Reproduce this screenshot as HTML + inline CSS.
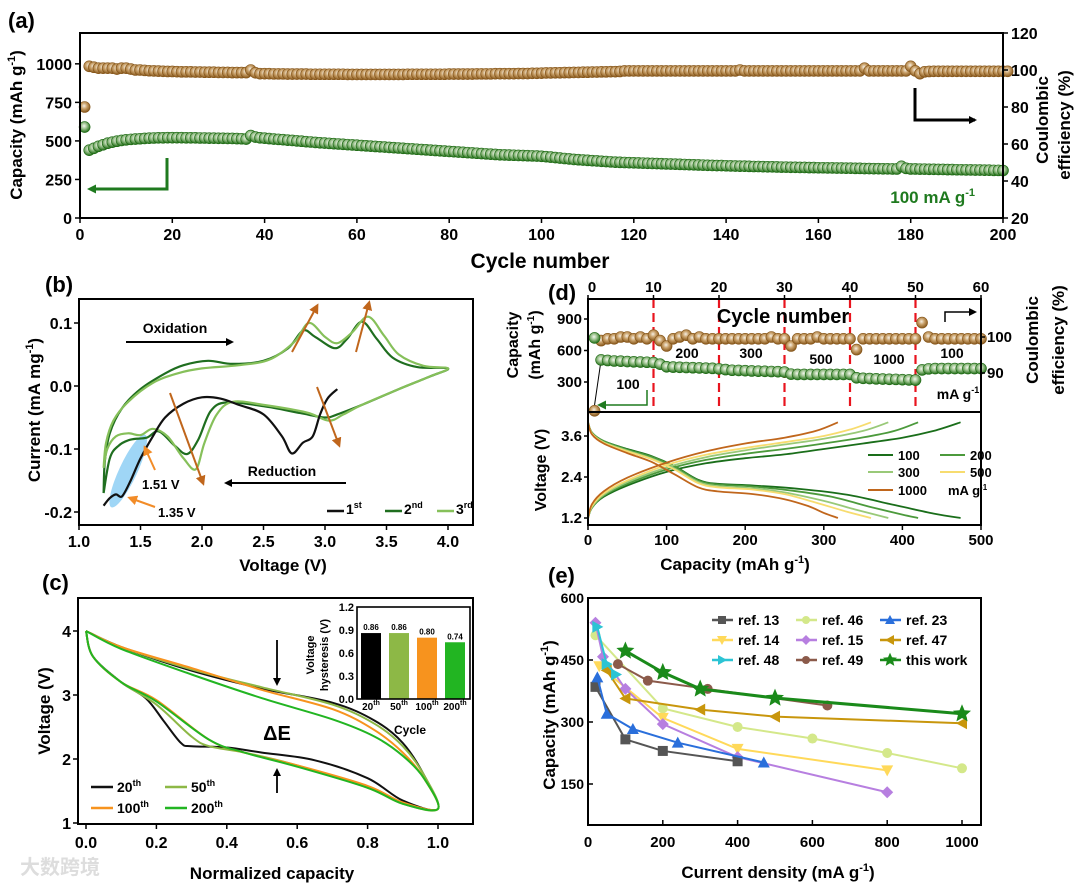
<!DOCTYPE html>
<html><head><meta charset="utf-8"><style>
html,body{margin:0;padding:0;background:#fff;}
svg{display:block;font-family:"Liberation Sans",Arial,sans-serif;font-weight:bold;}
</style></head><body>
<svg id="fig" width="1080" height="885" viewBox="0 0 1080 885" xmlns="http://www.w3.org/2000/svg">
<defs>
<radialGradient id="gGreen" cx="0.45" cy="0.4" r="0.6"><stop offset="0" stop-color="#f4f7ee"/><stop offset="0.45" stop-color="#9bc28d"/><stop offset="1" stop-color="#1e6b14"/></radialGradient>
<radialGradient id="gBrown" cx="0.45" cy="0.4" r="0.6"><stop offset="0" stop-color="#f5efe3"/><stop offset="0.45" stop-color="#c9a16a"/><stop offset="1" stop-color="#86561a"/></radialGradient>
<marker id="ahK" markerWidth="8" markerHeight="8" refX="6" refY="4" orient="auto" markerUnits="userSpaceOnUse"><path d="M0,0 L8,4 L0,8 z" fill="#000"/></marker>
<marker id="ahG" markerWidth="9" markerHeight="9" refX="6" refY="4.5" orient="auto" markerUnits="userSpaceOnUse"><path d="M0,0 L9,4.5 L0,9 z" fill="#1f7a1f"/></marker>
<marker id="ahO" markerWidth="10" markerHeight="10" refX="7" refY="5" orient="auto" markerUnits="userSpaceOnUse"><path d="M0,0 L10,5 L0,10 z" fill="#c0661c"/></marker>
<marker id="ahF" markerWidth="10" markerHeight="10" refX="7" refY="5" orient="auto" markerUnits="userSpaceOnUse"><path d="M0,0 L10,5 L0,10 z" fill="#f28c28"/></marker>
</defs>
</svg>
<script>
// ---------- DATA ----------
const capA=[590,440,452,465,475,485,492,498,503,507,510,512,514,516,518,519,520,520,521,521,521,521,520,520,520,519,519,518,518,517,517,516,516,515,514,512,535,525,520,518,515,512,510,508,505,503,500,498,495,493,490,488,486,484,482,480,478,476,474,472,470,468,466,464,462,460,458,456,454,452,450,448,446,444,442,440,438,436,434,432,430,428,426,424,422,420,418,416,414,412,410,409,408,407,406,405,404,403,402,400,398,395,392,389,386,383,380,378,376,374,372,370,368,366,364,362,361,360,359,358,357,356,355,354,353,352,351,350,349,348,347,346,345,344,343,342,341,340,340,339,338,337,336,336,335,334,334,333,332,332,331,330,330,329,329,328,328,327,327,326,326,325,325,324,324,323,323,322,322,321,321,320,320,319,319,318,318,335,322,318,318,317,317,316,316,315,315,314,314,313,313,312,312,311,311,310,310,309,309,308];
const ceA=[80,102,101.5,101,101,101,101,100.5,101,101,100.5,100,100,99.8,99.6,99.5,99.4,99.3,99.2,99.2,99.1,99,99,99,98.9,98.9,98.8,98.8,98.8,98.7,98.7,98.7,98.6,98.6,98.6,98.6,100,98.5,98,98,98,97.9,97.9,97.9,97.8,97.8,97.8,97.8,97.8,97.7,97.7,97.7,97.7,97.7,97.7,97.7,97.7,97.6,97.6,97.6,97.6,97.6,97.6,97.6,97.6,97.6,97.6,97.6,97.6,97.6,97.7,97.7,97.7,97.7,97.7,97.7,97.7,97.7,97.7,97.8,97.8,97.8,97.8,97.8,97.8,97.9,97.9,97.9,97.9,98,98,98,98,98,98.1,98.1,98.1,98.2,98.2,98.3,98.4,98.4,98.5,98.5,98.6,98.6,98.7,98.7,98.8,98.8,98.9,98.9,99,99,99.1,99.1,99.2,99.5,99.5,99.5,99.5,99.5,99.5,99.5,99.5,99.5,99.5,99.5,99.5,99.5,99.5,99.5,99.5,99.5,99.5,99.5,99.5,99.5,99.5,99.5,99.5,99.5,100,99.5,99.5,99.5,99.5,99.5,99.5,99.5,99.5,99.5,99.5,99.5,99.5,99.5,99.5,99.5,99.5,99.5,99.5,99.5,99.5,99.5,99.5,99.5,99.5,99.5,99.5,101,99.5,99.5,99.5,99.5,99.5,99.5,99.5,99.5,99.5,102,99.5,98,99,99.2,99.3,99.3,99.3,99.3,99.3,99.3,99.3,99.3,99.3,99.3,99.3,99.3,99.3,99.3,99.3,99.3,99.3];
const ticksA_x=[0,20,40,60,80,100,120,140,160,180,200];
const ticksA_yl=[0,250,500,750,1000];
const ticksA_yr=[20,40,60,80,100,120];
const cv1=[[3.1,-0.005],[3.02,-0.02],[2.96,-0.045],[2.9,-0.08],[2.82,-0.09],[2.73,-0.107],[2.65,-0.08],[2.5,-0.045],[2.3,-0.03],[2.15,-0.02],[2.0,-0.018],[1.85,-0.028],[1.7,-0.05],[1.6,-0.08],[1.5,-0.115],[1.42,-0.15],[1.35,-0.175],[1.3,-0.172],[1.25,-0.178],[1.2,-0.19]];
const cv2=[[1.2,-0.17],[1.21,-0.12],[1.25,-0.075],[1.35,-0.035],[1.5,-0.005],[1.7,0.02],[1.85,0.033],[2.05,0.04],[2.25,0.035],[2.5,0.04],[2.7,0.06],[2.82,0.088],[2.92,0.078],[3.08,0.06],[3.18,0.075],[3.3,0.102],[3.42,0.075],[3.55,0.045],[3.75,0.03],[4.0,0.028],[3.85,0.015],[3.6,-0.005],[3.3,-0.03],[3.1,-0.045],[3.0,-0.05],[2.8,-0.043],[2.5,-0.032],[2.2,-0.026],[2.07,-0.04],[1.97,-0.085],[1.88,-0.108],[1.78,-0.095],[1.65,-0.072],[1.55,-0.082],[1.42,-0.085],[1.32,-0.095],[1.25,-0.115],[1.2,-0.17]];
const cv3=[[1.2,-0.13],[1.22,-0.09],[1.28,-0.055],[1.4,-0.025],[1.6,0.005],[1.8,0.02],[2.0,0.028],[2.3,0.033],[2.55,0.042],[2.75,0.07],[2.87,0.1],[3.0,0.078],[3.1,0.068],[3.22,0.085],[3.35,0.11],[3.48,0.08],[3.6,0.05],[3.8,0.032],[4.0,0.028],[3.85,0.015],[3.6,-0.005],[3.3,-0.03],[3.15,-0.045],[3.03,-0.055],[2.85,-0.042],[2.5,-0.03],[2.25,-0.025],[2.12,-0.045],[2.02,-0.09],[1.95,-0.132],[1.85,-0.115],[1.72,-0.08],[1.6,-0.068],[1.5,-0.078],[1.4,-0.075],[1.3,-0.08],[1.23,-0.1],[1.2,-0.13]];
const ticksB_x=[1.0,1.5,2.0,2.5,3.0,3.5,4.0];
const ticksB_y=[-0.2,-0.1,0.0,0.1];
const c20=[[0,4.0],[0.1,3.75],[0.3,3.38],[0.5,3.1],[0.7,2.88],[0.82,2.6],[0.9,2.25],[0.96,1.75],[1.0,1.22],[0.9,1.35],[0.8,1.7],[0.65,1.98],[0.5,2.1],[0.4,2.18],[0.3,2.2],[0.27,2.25],[0.22,2.6],[0.17,2.95],[0.1,3.2],[0.02,3.6],[0,4.0]];
const c50=[[0,4.0],[0.1,3.75],[0.3,3.4],[0.5,3.12],[0.7,2.85],[0.82,2.55],[0.9,2.2],[0.96,1.75],[1.0,1.22],[0.9,1.3],[0.8,1.55],[0.6,1.9],[0.45,2.1],[0.35,2.2],[0.3,2.35],[0.2,2.85],[0.1,3.2],[0.02,3.6],[0,4.0]];
const c100=[[0,4.0],[0.1,3.75],[0.3,3.42],[0.5,3.08],[0.7,2.78],[0.82,2.45],[0.9,2.1],[0.96,1.7],[1.0,1.22],[0.9,1.32],[0.8,1.58],[0.6,1.9],[0.45,2.1],[0.35,2.3],[0.2,2.92],[0.1,3.2],[0.02,3.6],[0,4.0]];
const c200=[[0,4.0],[0.1,3.72],[0.3,3.32],[0.5,2.95],[0.7,2.62],[0.82,2.35],[0.9,2.05],[0.96,1.7],[1.0,1.22],[0.9,1.3],[0.8,1.55],[0.6,1.88],[0.45,2.1],[0.35,2.3],[0.2,2.9],[0.1,3.2],[0.02,3.6],[0,4.0]];
const ticksC_x=[0.0,0.2,0.4,0.6,0.8,1.0];
const ticksC_y=[1,2,3,4];
const insetCats=["20","50","100","200"];
const insetVals=[0.86,0.86,0.80,0.74];
const ticksInset=[0.0,0.3,0.6,0.9,1.2];
const capD=[720,510,505,500,498,495,492,490,488,485,470,445,442,440,438,436,434,432,430,425,418,412,410,408,405,403,402,400,398,395,375,372,372,372,372,372,372,372,372,372,340,335,333,330,328,326,325,322,320,318,415,425,428,428,428,428,428,428,428,428];
const ceD=[79.5,99,99.5,99.5,100,100,99.5,100,99.5,100.5,99,97.5,99.5,100,100.5,99.5,100,99.5,99.5,99.5,99.5,99.5,99.5,99.5,99.5,99.5,99.5,100,99.5,99.5,97.5,99.5,99.5,99.5,100,99.5,99.5,99.5,99.5,99.5,96.5,99.5,99.5,99.5,99.5,99.5,99.5,99.5,99.5,99.5,104,100,99.5,99.5,99.5,99.5,99.5,99.5,99.5,99.5];
const ticksD_top=[0,10,20,30,40,50,60];
const ticksD_l=[300,600,900];
const ticksD_r=[90,100];
const ticksD_x=[0,100,200,300,400,500];
const ticksD_v=[1.2,2.4,3.6];
const dis100=[[0,4.0],[5,3.7],[20,3.45],[50,3.22],[80,3.02],[110,2.72],[140,2.32],[165,2.2],[210,2.15],[270,2.05],[330,1.88],[390,1.58],[440,1.33],[474,1.2]];
const chg100=[[0,1.2],[5,1.5],[20,1.82],[50,2.15],[100,2.55],[150,2.8],[200,2.95],[250,3.06],[300,3.22],[350,3.38],[400,3.55],[440,3.75],[474,4.0]];
const dis200=[[0,4.0],[5,3.7],[20,3.45],[50,3.2],[80,3.0],[110,2.7],[140,2.3],[165,2.18],[210,2.12],[260,2.0],[310,1.82],[360,1.52],[400,1.3],[420,1.2]];
const chg200=[[0,1.2],[5,1.5],[20,1.85],[50,2.2],[100,2.62],[150,2.9],[200,3.08],[250,3.22],[300,3.38],[350,3.56],[390,3.75],[420,4.0]];
const dis300=[[0,4.0],[5,3.68],[20,3.42],[50,3.17],[80,2.95],[110,2.65],[140,2.26],[165,2.13],[210,2.07],[250,1.95],[300,1.7],[340,1.45],[382,1.2]];
const chg300=[[0,1.2],[5,1.52],[20,1.88],[50,2.25],[100,2.68],[150,2.98],[200,3.18],[250,3.35],[300,3.52],[350,3.75],[382,4.0]];
const dis500=[[0,4.0],[5,3.67],[20,3.4],[50,3.15],[80,2.93],[110,2.62],[140,2.22],[165,2.1],[210,2.03],[250,1.9],[290,1.65],[330,1.38],[360,1.2]];
const chg500=[[0,1.2],[5,1.55],[20,1.92],[50,2.3],[100,2.75],[150,3.05],[200,3.25],[250,3.42],[300,3.6],[335,3.8],[360,4.0]];
const dis1000=[[0,4.0],[5,3.65],[20,3.38],[50,3.1],[80,2.85],[110,2.48],[140,2.1],[165,1.98],[210,1.9],[250,1.75],[280,1.55],[300,1.35],[318,1.2]];
const chg1000=[[0,1.2],[5,1.6],[20,1.98],[50,2.38],[100,2.82],[150,3.15],[200,3.38],[250,3.55],[290,3.75],[318,4.0]];
const ticksE_x=[0,200,400,600,800,1000];
const ticksE_y=[150,300,450,600];
const ref13_x=[20,100,200,400], ref13_y=[385,258,230,205];
const ref46_x=[20,200,400,600,800,1000], ref46_y=[510,333,288,260,225,188];
const ref23_x=[25,50,120,240,470], ref23_y=[408,320,283,250,202];
const ref14_x=[30,200,400,800], ref14_y=[435,310,235,183];
const ref15_x=[20,40,100,200,400,800], ref15_y=[540,458,380,295,215,130];
const ref47_x=[50,100,300,500,1000], ref47_y=[425,357,330,313,297];
const ref48_x=[25,50,75], ref48_y=[530,440,415];
const ref49_x=[80,160,320,640], ref49_y=[440,400,380,340];
const ours_x=[100,200,300,500,1000], ours_y=[472,420,380,358,320];

// ---------- HELPERS ----------
const NS="http://www.w3.org/2000/svg";
const svg=document.getElementById('fig');
function mk(tag,attrs,parent){const e=document.createElementNS(NS,tag);for(const k in attrs)e.setAttribute(k,attrs[k]);(parent||svg).appendChild(e);return e;}
function lin(d0,d1,r0,r1){return v=>r0+(v-d0)*(r1-r0)/(d1-d0);}
function smooth(pts){let d="M"+pts[0][0].toFixed(1)+","+pts[0][1].toFixed(1);for(let i=0;i<pts.length-1;i++){const p0=pts[i-1]||pts[i],p1=pts[i],p2=pts[i+1],p3=pts[i+2]||p2;const c1=[p1[0]+(p2[0]-p0[0])/6,p1[1]+(p2[1]-p0[1])/6],c2=[p2[0]-(p3[0]-p1[0])/6,p2[1]-(p3[1]-p1[1])/6];d+=" C"+c1[0].toFixed(1)+","+c1[1].toFixed(1)+" "+c2[0].toFixed(1)+","+c2[1].toFixed(1)+" "+p2[0].toFixed(1)+","+p2[1].toFixed(1);}return d;}
function txt(x,y,s,size,anchor,parent,extra){const t=mk('text',Object.assign({x:x,y:y,'font-size':size,'text-anchor':anchor||'middle'},extra||{}),parent);t.innerHTML=s;return t;}
function frame(x0,y0,x1,y1,g){mk('rect',{x:x0,y:y0,width:x1-x0,height:y1-y0,fill:'none',stroke:'#000','stroke-width':2},g);}
function group(name){const g=mk('g',{});return g;}

// ---------- PANEL A ----------
(function(){
const g=group('panel-a');
const X0=80,X1=1003,Y0=33,Y1=218;
const sx=lin(0,200,X0,X1), sy=lin(0,1200,Y1,Y0), sr=lin(20,120,Y1,Y0);
txt(8,28,'(a)',22,'start',g);
capA.forEach((v,i)=>{const c=mk('circle',{cx:sx(i+1),cy:sy(v),r:5.5,fill:'url(#gGreen)',stroke:'#1e6b14','stroke-width':0.6},g);});
ceA.forEach((v,i)=>{const c=mk('circle',{cx:sx(i+1),cy:sr(v),r:5.5,fill:'url(#gBrown)',stroke:'#86561a','stroke-width':0.6},g);});
frame(X0,Y0,X1,Y1,g);
ticksA_x.forEach(v=>{mk('line',{x1:sx(v),x2:sx(v),y1:Y1,y2:Y1+5,stroke:'#000','stroke-width':1.5},g);txt(sx(v),Y1+22,v,16,'middle',g);});
ticksA_yl.forEach(v=>{mk('line',{x1:X0-5,x2:X0,y1:sy(v),y2:sy(v),stroke:'#000','stroke-width':1.5},g);txt(X0-8,sy(v)+6,v,16,'end',g);});
ticksA_yr.forEach(v=>{mk('line',{x1:X1,x2:X1+5,y1:sr(v),y2:sr(v),stroke:'#000','stroke-width':1.5},g);txt(X1+8,sr(v)+6,v,16,'start',g);});
txt(540,268,'Cycle number',21,'middle',g);
txt(0,0,'Capacity (mAh g<tspan font-size="11" dy="-7">-1</tspan><tspan dy="7">)</tspan>',17,'middle',g,{transform:'translate(22,125) rotate(-90)'});
txt(0,0,'Coulombic',17,'middle',g,{transform:'translate(1048,120) rotate(-90)'});
txt(0,0,'efficiency (%)',17,'middle',g,{transform:'translate(1070,125) rotate(-90)'});
mk('polyline',{points:'167,158 167,189 90,189',fill:'none',stroke:'#1f7a1f','stroke-width':3,'marker-end':'url(#ahG)'},g);
mk('polyline',{points:'915,88 915,120 975,120',fill:'none',stroke:'#000','stroke-width':3,'marker-end':'url(#ahK)'},g);
txt(975,203,'100 mA g<tspan font-size="11" dy="-7">-1</tspan>',17,'end',g,{fill:'#1f7a1f'});
})();

// ---------- PANEL B ----------
(function(){
const g=group('panel-b');
const X0=79,X1=473,Y0=299,Y1=525;
const sx=lin(1.0,4.0,79,448), sy=lin(0,0.1,386,323);
txt(45,292,'(b)',22,'start',g);
mk('ellipse',{cx:sx(1.4),cy:sy(-0.135),rx:9,ry:40,fill:'#8ecff5',opacity:0.85,transform:`rotate(25 ${sx(1.4)} ${sy(-0.135)})`},g);
[[cv2,'#1f6e1f'],[cv3,'#86c05a'],[cv1,'#111']].forEach(([d,c])=>{const p=mk('path',{d:smooth(d.map(q=>[sx(q[0]),sy(q[1])])),fill:'none',stroke:c,'stroke-width':2.2},g);});
frame(X0,Y0,X1,Y1,g);
ticksB_x.forEach(v=>{mk('line',{x1:sx(v),x2:sx(v),y1:Y1,y2:Y1+5,stroke:'#000','stroke-width':1.5},g);txt(sx(v),Y1+22,v.toFixed(1),16,'middle',g);});
ticksB_y.forEach(v=>{mk('line',{x1:X0-5,x2:X0,y1:sy(v),y2:sy(v),stroke:'#000','stroke-width':1.5},g);txt(X0-7,sy(v)+6,v.toFixed(1),16,'end',g);});
txt(283,571,'Voltage (V)',17,'middle',g);
txt(0,0,'Current (mA mg<tspan font-size="11" dy="-7">-1</tspan><tspan dy="7">)</tspan>',17,'middle',g,{transform:'translate(40,410) rotate(-90)'});
txt(175,333,'Oxidation',14,'middle',g);
mk('line',{x1:126,y1:342,x2:232,y2:342,stroke:'#000','stroke-width':2,'marker-end':'url(#ahK)'},g);
txt(282,476,'Reduction',14,'middle',g);
mk('line',{x1:346,y1:483,x2:226,y2:483,stroke:'#000','stroke-width':2,'marker-end':'url(#ahK)'},g);
[[292,352,317,306],[356,352,369,303],[170,393,203,483],[317,387,339,445]].forEach(a=>mk('line',{x1:a[0],y1:a[1],x2:a[2],y2:a[3],stroke:'#c0661c','stroke-width':2,'marker-end':'url(#ahO)'},g));
mk('line',{x1:155,y1:470,x2:145,y2:448,stroke:'#f28c28','stroke-width':2,'marker-end':'url(#ahF)'},g);
mk('line',{x1:155,y1:507,x2:130,y2:498,stroke:'#f28c28','stroke-width':2,'marker-end':'url(#ahF)'},g);
txt(142,489,'1.51 V',13,'start',g);txt(158,517,'1.35 V',13,'start',g);
[[327,'#111','1<tspan font-size="9" dy="-6">st</tspan>'],[385,'#1f6e1f','2<tspan font-size="9" dy="-6">nd</tspan>'],[437,'#86c05a','3<tspan font-size="9" dy="-6">rd</tspan>']].forEach(([x,c,s])=>{mk('line',{x1:x,x2:x+17,y1:511,y2:511,stroke:c,'stroke-width':2.5},g);txt(x+19,514,s,14,'start',g);});
})();

// ---------- PANEL C ----------
(function(){
const g=group('panel-c');
const X0=78,X1=473,Y0=598,Y1=824;
const sx=lin(0,1,86,438), sy=lin(1,4,823,631);
txt(42,590,'(c)',22,'start',g);
[[c20,'#111'],[c50,'#8db846'],[c100,'#f7931e'],[c200,'#22b522']].forEach(([d,c])=>{const p=mk('path',{d:smooth(d.map(q=>[sx(q[0]),sy(q[1])])),fill:'none',stroke:c,'stroke-width':2},g);});
frame(X0,Y0,X1,Y1,g);
ticksC_x.forEach(v=>{mk('line',{x1:sx(v),x2:sx(v),y1:Y1,y2:Y1+5,stroke:'#000','stroke-width':1.5},g);txt(sx(v),Y1+24,v.toFixed(1),16,'middle',g);});
ticksC_y.forEach(v=>{mk('line',{x1:X0-5,x2:X0,y1:sy(v),y2:sy(v),stroke:'#000','stroke-width':1.5},g);txt(X0-7,sy(v)+6,v,16,'end',g);});
txt(272,879,'Normalized capacity',17,'middle',g);
txt(0,0,'Voltage (V)',17,'middle',g,{transform:'translate(50,711) rotate(-90)'});
mk('line',{x1:277,y1:640,x2:277,y2:684,stroke:'#000','stroke-width':1.8,'marker-end':'url(#ahK)'},g);
mk('line',{x1:277,y1:793,x2:277,y2:770,stroke:'#000','stroke-width':1.8,'marker-end':'url(#ahK)'},g);
txt(277,740,'ΔE',20,'middle',g);
[[91,787,'#111','20'],[165,787,'#8db846','50'],[91,808,'#f7931e','100'],[165,808,'#22b522','200']].forEach(([x,y,c,s])=>{mk('line',{x1:x,x2:x+22,y1:y,y2:y,stroke:c,'stroke-width':2.5},g);txt(x+26,y+5,s+'<tspan font-size="9" dy="-6">th</tspan>',14,'start',g);});
const IX0=357,IX1=470,IY0=607,IY1=699;
const iy=lin(0,1.2,IY1,IY0);
const cols=['#000','#8db846','#f7931e','#22b522'];
insetVals.forEach((v,i)=>{const bx=IX0+4+i*28;const r=mk('rect',{x:bx,y:iy(v),width:20,height:IY1-iy(v),fill:cols[i]},g);txt(bx+10,iy(v)-3,v.toFixed(2),8,'middle',g);txt(bx+10,IY1+11,insetCats[i]+'<tspan font-size="7" dy="-5">th</tspan>',10,'middle',g);});
mk('rect',{x:IX0,y:IY0,width:IX1-IX0,height:IY1-IY0,fill:'none',stroke:'#000','stroke-width':1.6},g);
ticksInset.forEach(v=>{txt(IX0-3,iy(v)+4,v.toFixed(1),11,'end',g);});
txt(410,734,'Cycle',12,'middle',g);
txt(0,0,'Voltage',11,'middle',g,{transform:'translate(314,655) rotate(-90)'});
txt(0,0,'hysteresis (V)',11,'middle',g,{transform:'translate(328,655) rotate(-90)'});
})();

// ---------- PANEL D ----------
(function(){
const g=group('panel-d');
const X0=588,X1=981,Y0=299,YM=412,Y1=525;
const sc=lin(0,60,X0,X1), sl=lin(300,900,382,319), sr=lin(90,100,373,337);
const sxc=lin(0,500,X0,X1), sv=lin(1.2,3.6,518,436);
txt(548,300,'(d)',22,'start',g);
ticksD_top.forEach(v=>{mk('line',{x1:sc(v),x2:sc(v),y1:Y0,y2:Y0-4,stroke:'#000','stroke-width':1.5},g);txt(sc(v)+(v===0?4:0),292,v,15,'middle',g);});
[10,20,30,40,50].forEach(v=>mk('line',{x1:sc(v),x2:sc(v),y1:Y0,y2:YM,stroke:'#e8141e','stroke-width':2.2,'stroke-dasharray':'9,5'},g));
mk('line',{x1:sc(2),y1:sl(capD[1]),x2:sc(1),y2:405,stroke:'#000','stroke-width':1},g);
ceD.forEach((v,i)=>{const cy=Math.min(sr(v),YM);const c=mk('circle',{cx:sc(i+1),cy:cy,r:5.5,fill:'url(#gBrown)',stroke:'#86561a','stroke-width':0.6},g);});
capD.forEach((v,i)=>{const c=mk('circle',{cx:sc(i+1),cy:sl(v),r:5.5,fill:'url(#gGreen)',stroke:'#1e6b14','stroke-width':0.6},g);});
txt(783,323,'Cycle number',20,'middle',g);
[[628,389,'100'],[687,358,'200'],[751,358,'300'],[821,364,'500'],[889,364,'1000'],[952,358,'100']].forEach(a=>txt(a[0],a[1],a[2],14,'middle',g));
txt(958,399,'mA g<tspan font-size="9" dy="-6">-1</tspan>',14,'middle',g);
mk('polyline',{points:'647,390 647,405 600,405',fill:'none',stroke:'#1f7a1f','stroke-width':1.5,'marker-end':'url(#ahG)'},g);
mk('polyline',{points:'945,322 945,312 975,312',fill:'none',stroke:'#000','stroke-width':1.5,'marker-end':'url(#ahK)'},g);
ticksD_l.forEach(v=>{mk('line',{x1:X0-4,x2:X0,y1:sl(v),y2:sl(v),stroke:'#000','stroke-width':1.5},g);txt(X0-6,sl(v)+5,v,15,'end',g);});
ticksD_r.forEach(v=>{mk('line',{x1:X1,x2:X1+4,y1:sr(v),y2:sr(v),stroke:'#000','stroke-width':1.5},g);txt(X1+6,sr(v)+5,v,15,'start',g);});
[[chg100,dis100,'#1a6e1a'],[chg200,dis200,'#4c9a3c'],[chg300,dis300,'#99c978'],[chg500,dis500,'#f7dc6f'],[chg1000,dis1000,'#c0661c']].forEach(([a,b,c])=>{[a,b].forEach(d=>{const p=mk('path',{d:smooth(d.map(q=>[sxc(q[0]),sv(q[1])])),fill:'none',stroke:c,'stroke-width':1.8},g);});});
mk('rect',{x:X0,y:Y0,width:X1-X0,height:Y1-Y0,fill:'none',stroke:'#000','stroke-width':2},g);
mk('line',{x1:X0,x2:X1,y1:YM,y2:YM,stroke:'#000','stroke-width':2},g);
ticksD_x.forEach(v=>{mk('line',{x1:sxc(v),x2:sxc(v),y1:Y1,y2:Y1+5,stroke:'#000','stroke-width':1.5},g);txt(sxc(v),Y1+20,v,15,'middle',g);});
ticksD_v.forEach(v=>{mk('line',{x1:X0-4,x2:X0,y1:sv(v),y2:sv(v),stroke:'#000','stroke-width':1.5},g);txt(X0-6,sv(v)+5,v.toFixed(1),15,'end',g);});
txt(735,570,'Capacity (mAh g<tspan font-size="11" dy="-7">-1</tspan><tspan dy="7">)</tspan>',17,'middle',g);
txt(0,0,'Capacity',16,'middle',g,{transform:'translate(518,345) rotate(-90)'});
txt(0,0,'(mAh g<tspan font-size="10" dy="-6">-1</tspan><tspan dy="6">)</tspan>',16,'middle',g,{transform:'translate(540,345) rotate(-90)'});
txt(0,0,'Voltage (V)',16,'middle',g,{transform:'translate(546,470) rotate(-90)'});
txt(0,0,'Coulombic',17,'middle',g,{transform:'translate(1038,340) rotate(-90)'});
txt(0,0,'efficiency (%)',17,'middle',g,{transform:'translate(1064,340) rotate(-90)'});
[[868,455,'#1a6e1a','100'],[940,455,'#4c9a3c','200'],[868,472,'#99c978','300'],[940,472,'#f7dc6f','500'],[868,490,'#c0661c','1000']].forEach(([x,y,c,s])=>{mk('line',{x1:x,x2:x+25,y1:y,y2:y,stroke:c,'stroke-width':2},g);txt(x+30,y+5,s,13,'start',g);});
txt(948,495,'mA g<tspan font-size="8" dy="-5">-1</tspan>',13,'start',g);
})();

// ---------- PANEL E ----------
(function(){
const g=group('panel-e');
const X0=588,X1=981,Y0=598,Y1=825;
const sx=lin(0,1000,588,962), sy=lin(150,600,784,598);
txt(548,583,'(e)',22,'start',g);
function marker(type,x,y,c,s){s=s||5;let e;
 if(type==='sq')e=mk('rect',{x:x-s,y:y-s,width:2*s,height:2*s,fill:c},g);
 else if(type==='ci'||type==='hex')e=mk('circle',{cx:x,cy:y,r:s,fill:c},g);
 else if(type==='tu')e=mk('polygon',{points:`${x},${y-s-1} ${x-s-1},${y+s} ${x+s+1},${y+s}`,fill:c},g);
 else if(type==='td')e=mk('polygon',{points:`${x},${y+s+1} ${x-s-1},${y-s} ${x+s+1},${y-s}`,fill:c},g);
 else if(type==='tl')e=mk('polygon',{points:`${x-s-1},${y} ${x+s},${y-s-1} ${x+s},${y+s+1}`,fill:c},g);
 else if(type==='tr')e=mk('polygon',{points:`${x+s+1},${y} ${x-s},${y-s-1} ${x-s},${y+s+1}`,fill:c},g);
 else if(type==='di')e=mk('polygon',{points:`${x},${y-s-1} ${x+s+1},${y} ${x},${y+s+1} ${x-s-1},${y}`,fill:c},g);
 else if(type==='st'){let p=[];for(let k=0;k<10;k++){const r=k%2?s*0.95:s*2.1;const a=-Math.PI/2+k*Math.PI/5;p.push((x+r*Math.cos(a)).toFixed(1)+','+(y+r*Math.sin(a)).toFixed(1));}e=mk('polygon',{points:p.join(' '),fill:c},g);}
 return e;}
const series=[[ref46_x,ref46_y,'#d4e88a','ci'],[ref14_x,ref14_y,'#ffd95a','td'],[ref15_x,ref15_y,'#b77fe0','di'],[ref13_x,ref13_y,'#555','sq'],[ref23_x,ref23_y,'#2a6fdb','tu'],[ref47_x,ref47_y,'#c8960c','tl'],[ref48_x,ref48_y,'#2cc4d4','tr'],[ref49_x,ref49_y,'#8b5a4a','hex'],[ours_x,ours_y,'#1a8a1a','st']];
series.forEach(([xs,ys,c,t])=>{const pts=xs.map((v,i)=>sx(v)+','+sy(ys[i])).join(' ');const l=mk('polyline',{points:pts,fill:'none',stroke:c,'stroke-width':t==='st'?3:2},g);xs.forEach((v,i)=>{const m=marker(t,sx(v),sy(ys[i]),c,t==='st'?4.5:5);});});
frame(X0,Y0,X1,Y1,g);
ticksE_x.forEach(v=>{mk('line',{x1:sx(v),x2:sx(v),y1:Y1,y2:Y1-5,stroke:'#000','stroke-width':1.5},g);txt(sx(v),Y1+22,v,15,'middle',g);});
ticksE_y.forEach(v=>{mk('line',{x1:X0,x2:X0+5,y1:sy(v),y2:sy(v),stroke:'#000','stroke-width':1.5},g);txt(X0-4,sy(v)+5,v,14,'end',g);});
txt(778,878,'Current density (mA g<tspan font-size="11" dy="-7">-1</tspan><tspan dy="7">)</tspan>',17,'middle',g);
txt(0,0,'Capacity (mAh g<tspan font-size="11" dy="-7">-1</tspan><tspan dy="7">)</tspan>',17,'middle',g,{transform:'translate(555,715) rotate(-90)'});
const leg=[[0,0,'ref. 13','#555','sq'],[1,0,'ref. 46','#d4e88a','ci'],[2,0,'ref. 23','#2a6fdb','tu'],[0,1,'ref. 14','#ffd95a','td'],[1,1,'ref. 15','#b77fe0','di'],[2,1,'ref. 47','#c8960c','tl'],[0,2,'ref. 48','#2cc4d4','tr'],[1,2,'ref. 49','#8b5a4a','hex'],[2,2,'this work','#1a8a1a','st']];
leg.forEach(([c,r,s,col,t])=>{const x=712+c*84,y=620+r*20;mk('line',{x1:x,x2:x+21,y1:y,y2:y,stroke:col,'stroke-width':2.5},g);marker(t,x+10,y,col,t==='st'?3.5:4);const tt=txt(x+26,y+5,s,14,'start',g);});
})();
(function(){const t=txt(20,874,'大数跨境',20,'start',svg,{fill:'#ddd','font-family':'"Noto Sans CJK SC",sans-serif'});})();
</script>
</body></html>
